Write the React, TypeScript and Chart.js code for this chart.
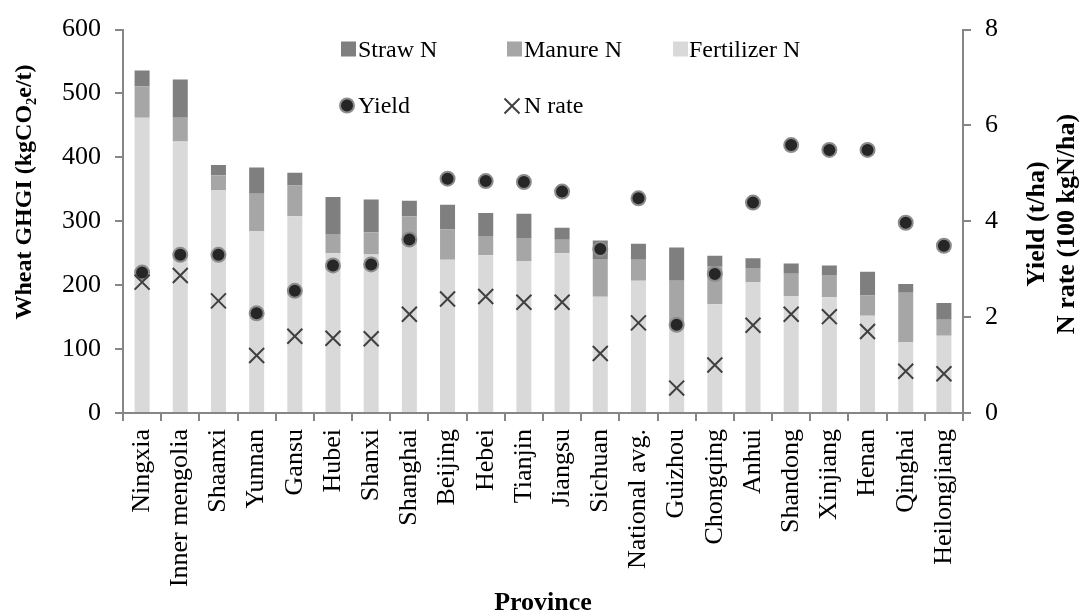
import { useEffect, useRef } from "react";
import { Chart, registerables } from "chart.js";

Chart.register(...registerables);

const provinces = [
  "Ningxia", "Inner mengolia", "Shaanxi", "Yunnan", "Gansu", "Hubei", "Shanxi",
  "Shanghai", "Beijing", "Hebei", "Tianjin", "Jiangsu", "Sichuan", "National avg.",
  "Guizhou", "Chongqing", "Anhui", "Shandong", "Xinjiang", "Henan", "Qinghai", "Heilongjiang",
];
const fertilizerN = [462, 425, 349, 285, 308, 250, 248, 271, 240, 247, 238, 250, 182, 207, 136, 170, 205, 183, 181, 152, 111, 121];
const manureN = [49, 37, 23, 58, 48, 30, 35, 37, 47, 30, 36, 21, 59, 33, 71, 59, 22, 35, 35, 32, 77, 25];
const strawN = [25, 60, 16, 41, 20, 58, 51, 24, 39, 36, 38, 19, 29, 25, 52, 17, 15, 16, 15, 37, 14, 26];
const yieldTHa = [2.93, 3.3, 3.3, 2.08, 2.55, 3.08, 3.1, 3.62, 4.89, 4.84, 4.82, 4.62, 3.42, 4.48, 1.84, 2.9, 4.39, 5.59, 5.49, 5.49, 3.97, 3.49];
const nRate = [2.73, 2.87, 2.34, 1.2, 1.6, 1.56, 1.55, 2.06, 2.38, 2.43, 2.31, 2.31, 1.24, 1.88, 0.52, 1.0, 1.83, 2.06, 2.01, 1.7, 0.87, 0.82];

const FONT = "'Liberation Serif', 'Times New Roman', Times, serif";
const AXIS_GRAY = "#868686";

const overlayPlugin = {
  id: "overlay",
  afterDraw(chart: any) {
    const ctx: CanvasRenderingContext2D = chart.ctx;
    const ds = chart.data.datasets;
    ctx.save();
    ctx.fillStyle = "#000";
    ctx.textAlign = "left";
    ctx.textBaseline = "alphabetic";
    ctx.font = `24px ${FONT}`;
    const boxes = [
      { d: ds[2], x: 341, tx: 358 },
      { d: ds[1], x: 507, tx: 524 },
      { d: ds[0], x: 673, tx: 689 },
    ];
    boxes.forEach((b) => {
      ctx.fillStyle = b.d.backgroundColor;
      ctx.fillRect(b.x, 41.5, 15, 15);
      ctx.fillStyle = "#000";
      ctx.fillText(b.d.label, b.tx, 56.7);
    });
    // Yield legend
    ctx.beginPath();
    ctx.arc(347, 105.5, 7, 0, Math.PI * 2);
    ctx.fillStyle = ds[3].backgroundColor;
    ctx.fill();
    ctx.lineWidth = 2;
    ctx.strokeStyle = ds[3].borderColor;
    ctx.stroke();
    ctx.fillStyle = "#000";
    ctx.fillText(ds[3].label, 358, 113.3);
    // N rate legend
    ctx.beginPath();
    ctx.moveTo(504.5, 98.5);
    ctx.lineTo(519.5, 113.5);
    ctx.moveTo(519.5, 98.5);
    ctx.lineTo(504.5, 113.5);
    ctx.lineWidth = 2;
    ctx.strokeStyle = ds[4].borderColor;
    ctx.stroke();
    ctx.fillText(ds[4].label, 524, 113.3);

    // axis titles
    ctx.font = `bold 24px ${FONT}`;
    ctx.textAlign = "center";
    ctx.textBaseline = "middle";
    ctx.save();
    ctx.translate(25, 192);
    ctx.rotate(-Math.PI / 2);
    ctx.fillText("Wheat GHGI (kgCO\u2082e/t)", 0, 0);
    ctx.restore();

    ctx.font = `bold 26px ${FONT}`;
    ctx.save();
    ctx.translate(1037, 224);
    ctx.rotate(-Math.PI / 2);
    ctx.fillText("Yield (t/ha)", 0, 0);
    ctx.restore();
    ctx.save();
    ctx.translate(1067, 224);
    ctx.rotate(-Math.PI / 2);
    ctx.fillText("N rate (100 kgN/ha)", 0, 0);
    ctx.restore();

    ctx.textBaseline = "alphabetic";
    ctx.fillText("Province", 543, 610);
    ctx.restore();
  },
};

export default function App() {
  const ref = useRef<HTMLCanvasElement | null>(null);
  useEffect(() => {
    if (!ref.current) return;
    const tickFont = { family: FONT, size: 26 };
    const chart = new Chart(ref.current, {
      type: "bar",
      data: {
        labels: provinces,
        datasets: [
          { type: "bar", label: "Fertilizer N", data: fertilizerN, backgroundColor: "#d9d9d9", yAxisID: "y", stack: "s", order: 2, barPercentage: 0.393, categoryPercentage: 1 },
          { type: "bar", label: "Manure N", data: manureN, backgroundColor: "#a6a6a6", yAxisID: "y", stack: "s", order: 2, barPercentage: 0.393, categoryPercentage: 1 },
          { type: "bar", label: "Straw N", data: strawN, backgroundColor: "#7f7f7f", yAxisID: "y", stack: "s", order: 2, barPercentage: 0.393, categoryPercentage: 1 },
          { type: "line", label: "Yield", data: yieldTHa, yAxisID: "y1", showLine: false, pointStyle: "circle", pointRadius: 7, pointBackgroundColor: "#262626", pointBorderColor: "#8c8c8c", pointBorderWidth: 2, backgroundColor: "#262626", borderColor: "#8c8c8c", order: 1 },
          { type: "line", label: "N rate", data: nRate, yAxisID: "y1", showLine: false, pointStyle: "crossRot", pointRadius: 10.6, pointBorderColor: "#404040", pointBorderWidth: 2, borderColor: "#404040", backgroundColor: "#404040", order: 0 },
        ] as any,
      },
      options: {
        responsive: false,
        animation: false,
        devicePixelRatio: 1,
        layout: { padding: { top: 21, left: 0, right: 0, bottom: 0 } },
        plugins: { legend: { display: false }, tooltip: { enabled: false } },
        scales: {
          x: {
            stacked: true,
            offset: true,
            grid: { display: true, offset: true, drawOnChartArea: false, drawTicks: true, tickLength: 8, color: AXIS_GRAY, lineWidth: 2 },
            border: { display: true, color: AXIS_GRAY, width: 2 },
            ticks: { font: tickFont, color: "#000", minRotation: 90, maxRotation: 90, autoSkip: false, padding: 8 },
            afterFit: (s: any) => { s.height = 202; },
          },
          y: {
            position: "left",
            stacked: true,
            min: 0,
            max: 600,
            grid: { drawOnChartArea: false, drawTicks: true, tickLength: 8, color: AXIS_GRAY, lineWidth: 2 },
            border: { display: true, color: AXIS_GRAY, width: 2 },
            ticks: { stepSize: 100, font: tickFont, color: "#000", padding: 14 },
            afterFit: (s: any) => { s.width = 123; },
          },
          y1: {
            position: "right",
            min: 0,
            max: 8,
            grid: { drawOnChartArea: false, drawTicks: true, tickLength: 8, color: AXIS_GRAY, lineWidth: 2 },
            border: { display: true, color: AXIS_GRAY, width: 2 },
            ticks: { stepSize: 2, font: tickFont, color: "#000", padding: 14 },
            afterFit: (s: any) => { s.width = 121; },
          },
        },
      } as any,
      plugins: [overlayPlugin],
    });
    return () => chart.destroy();
  }, []);
  return (
    <div style={{ position: "absolute", left: 0, top: 0, width: 1084, height: 615, background: "#fff" }}>
      <canvas ref={ref} width={1084} height={615} style={{ width: 1084, height: 615, display: "block" }} />
    </div>
  );
}
